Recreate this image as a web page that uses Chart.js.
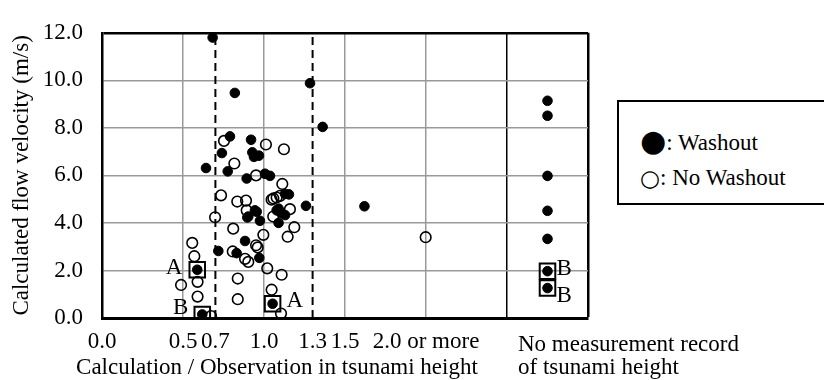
<!DOCTYPE html>
<html>
<head>
<meta charset="utf-8">
<script src="https://cdn.jsdelivr.net/npm/chart.js@4.4.1/dist/chart.umd.min.js"></script>
<style>
    html, body { margin: 0; padding: 0; background: #fff; }
    #wrap { position: relative; width: 824px; height: 380px; overflow: hidden; }
    #legendBox {
        position: absolute; left: 617px; top: 100px; width: 230px; height: 101px;
        border: 2px solid #000; background: #fff;
        font-family: 'Liberation Serif', 'Times New Roman', serif; font-size: 23px; color: #000;
    }
    .legendRow { position: absolute; left: 21px; white-space: nowrap; height: 26px; line-height: 26px; }
    .sym { font-family: 'DejaVu Sans', sans-serif; display: inline-block; vertical-align: top; line-height: 26px; }
</style>
</head>
<body>
<div id="wrap">
    <canvas id="chart" width="824" height="380"></canvas>
    <div id="legendBox">
        <div class="legendRow" style="top: 28px;"><span class="sym" style="font-size: 30px; margin-top: -2px;">●</span>: Washout</div>
        <div class="legendRow" style="top: 63px;"><span class="sym" style="font-size: 23px;">○</span>: No Washout</div>
    </div>
</div>
<script>
// x = calculation / observation in tsunami height, y = calculated flow velocity (m/s)
const washoutX = [0.683, 0.820, 1.284, 1.362, 0.642, 0.740, 0.790, 0.776, 0.920, 0.928, 0.938, 0.969,
    0.893, 1.006, 1.037, 1.130, 1.154, 1.259, 1.620, 0.718, 0.883, 0.831, 0.971, 0.897, 0.944, 0.975,
    0.955, 0.903, 1.078, 1.090, 1.130, 1.090, 1.105, 0.588, 0.619, 1.053];
const washoutY = [11.80, 9.47, 9.88, 8.04, 6.31, 6.94, 7.64, 6.17, 7.50, 6.97, 6.78, 6.83,
    5.87, 6.07, 5.98, 5.22, 5.20, 4.72, 4.70, 2.82, 3.24, 2.73, 2.53, 4.23, 4.53, 4.09,
    4.47, 4.27, 4.53, 4.60, 4.33, 4.00, 4.42, 2.03, 0.15, 0.60];

const noWashoutX = [0.753, 0.817, 1.012, 1.123, 0.951, 1.113, 1.058, 1.078, 1.099, 1.160, 1.187, 1.146,
    0.996, 1.020, 1.109, 1.047, 1.105, 1.998, 0.698, 0.735, 0.557, 0.570, 0.488, 0.590, 0.590, 0.673,
    0.838, 0.838, 0.810, 0.807, 0.883, 0.903, 0.951, 0.961, 0.835, 0.889, 0.893, 1.047, 1.057];
const noWashoutY = [7.45, 6.50, 7.30, 7.10, 6.00, 5.64, 5.03, 5.07, 5.14, 4.58, 3.82, 3.42,
    3.50, 2.09, 1.82, 1.19, 0.19, 3.40, 4.24, 5.16, 3.16, 2.60, 1.39, 1.52, 0.90, 0.08,
    1.66, 0.79, 3.76, 2.80, 2.49, 2.36, 3.06, 2.97, 4.90, 4.94, 4.53, 4.98, 4.27];

// sites without a measured tsunami height (all washed out), shown in their own column
const noRecordX = 2.75;
const noRecordY = [9.14, 8.51, 5.98, 4.51, 3.33, 1.97, 1.26];

// boxed points with their letters
const markedX = [0.588, 0.619, 1.053, 2.75, 2.75];
const markedY = [2.03, 0.15, 0.60, 1.97, 1.26];
const markedLabels = ['A', 'B', 'A', 'B', 'B'];

const dashedX = [0.7, 1.3];
const noRecordBoundary = 2.5;
const xTickValues = [0, 0.5, 0.7, 1.0, 1.3, 1.5, 2.0, 2.5, 3.0];
const xTickLabels = ['0.0', '0.5', '0.7', '1.0', '1.3', '1.5', '2.0 or more', '', ''];
const yTicks = [0, 2, 4, 6, 8, 10, 12];

const xTitle = 'Calculation / Observation in tsunami height';
const noRecordTitle = ['No measurement record', 'of tsunami height'];
const yTitle = 'Calculated flow velocity (m/s)';

const toPoints = (xs, ys) => xs.map((x, i) => ({ x: x, y: ys[i] }));
const SERIF = "'Liberation Serif', 'Times New Roman', serif";
const FONT_SIZE = 23;

// pixel nudges for the A/B letters, relative to their boxed point
const labelOffsets = [
    { dx: -15, dy: -2, align: 'right' },
    { dx: -14, dy: -6, align: 'right' },
    { dx: 14, dy: -3, align: 'left' },
    { dx: 9, dy: -2, align: 'left' },
    { dx: 9, dy: 8, align: 'left' }
];

const annotations = {
    id: 'annotations',
    afterDatasetsDraw(chart) {
        const ctx = chart.ctx;
        const xs = chart.scales.x, ys = chart.scales.y;
        ctx.save();
        ctx.fillStyle = '#000';
        ctx.font = FONT_SIZE + 'px ' + SERIF;
        ctx.textBaseline = 'middle';
        markedLabels.forEach((txt, i) => {
            const o = labelOffsets[i];
            ctx.textAlign = o.align;
            ctx.fillText(txt, xs.getPixelForValue(markedX[i]) + o.dx, ys.getPixelForValue(markedY[i]) + o.dy);
        });
        ctx.restore();
    },
    afterDraw(chart) {
        const ctx = chart.ctx;
        const area = chart.chartArea;
        const xs = chart.scales.x;
        ctx.save();
        ctx.fillStyle = '#000';
        ctx.font = FONT_SIZE + 'px ' + SERIF;
        ctx.textBaseline = 'middle';
        ctx.textAlign = 'center';
        ctx.fillText(xTitle, xs.getPixelForValue(1.08), area.bottom + 50);
        ctx.textAlign = 'left';
        const nx = xs.getPixelForValue(noRecordBoundary) + 11;
        ctx.fillText(noRecordTitle[0], nx, area.bottom + 27);
        ctx.fillText(noRecordTitle[1], nx, area.bottom + 50);
        ctx.translate(22, (area.top + area.bottom) / 2);
        ctx.rotate(-Math.PI / 2);
        ctx.textAlign = 'center';
        ctx.fillText(yTitle, 0, 0);
        ctx.restore();
    }
};

Chart.defaults.font.family = SERIF;
Chart.defaults.font.size = FONT_SIZE;
Chart.defaults.color = '#000';

const filledStyle = {
    pointStyle: 'circle', pointRadius: 4.8, pointHoverRadius: 4.8,
    pointBackgroundColor: '#000', pointBorderColor: '#000', pointBorderWidth: 1
};

new Chart(document.getElementById('chart'), {
    type: 'scatter',
    data: {
        datasets: [
            {
                label: 'marked',
                data: toPoints(markedX, markedY),
                pointStyle: 'rect', pointRadius: 11, pointHoverRadius: 11,
                pointBackgroundColor: 'rgba(0,0,0,0)', pointBorderColor: '#000', pointBorderWidth: 2
            },
            Object.assign({ label: 'Washout', data: toPoints(washoutX, washoutY) }, filledStyle),
            Object.assign({ label: 'Washout (no record)', data: noRecordY.map(y => ({ x: noRecordX, y: y })) }, filledStyle),
            {
                label: 'No Washout',
                data: toPoints(noWashoutX, noWashoutY),
                pointStyle: 'circle', pointRadius: 5.3, pointHoverRadius: 5.3,
                pointBackgroundColor: 'rgba(0,0,0,0)', pointBorderColor: '#000', pointBorderWidth: 1.6
            },
            ...dashedX.map(x => ({
                label: 'ratio ' + x,
                data: [{ x: x, y: 0 }, { x: x, y: 12 }],
                showLine: true, borderColor: '#000', borderWidth: 2, borderDash: [8, 5],
                pointRadius: 0, pointHoverRadius: 0
            }))
        ]
    },
    options: {
        responsive: false,
        animation: false,
        events: [],
        layout: { padding: { top: 19, right: 236, left: 0, bottom: 0 } },
        plugins: { legend: { display: false }, tooltip: { enabled: false } },
        scales: {
            x: {
                type: 'linear', min: 0, max: 3,
                afterBuildTicks: scale => { scale.ticks = xTickValues.map(v => ({ value: v })); },
                afterFit: scale => { scale.height = 62; },
                ticks: {
                    autoSkip: false, maxRotation: 0, minRotation: 0, padding: 10,
                    callback: (value, index) => xTickLabels[index]
                },
                grid: {
                    drawTicks: false,
                    color: c => {
                        const v = c.tick ? c.tick.value : null;
                        if (dashedX.includes(v)) return 'rgba(0,0,0,0)';
                        if (v === noRecordBoundary || v === 3) return '#000';
                        return '#999';
                    },
                    lineWidth: c => (c.tick && c.tick.value === 3 ? 2.5 : 1.5)
                },
                border: { color: '#000', width: 3 }
            },
            y: {
                type: 'linear', min: 0, max: 12,
                afterBuildTicks: scale => { scale.ticks = yTicks.map(v => ({ value: v })); },
                afterFit: scale => { scale.width = 102; },
                ticks: { padding: 19, callback: v => v.toFixed(1) },
                grid: {
                    drawTicks: false,
                    color: c => (c.tick && c.tick.value === 12 ? '#000' : '#999'),
                    lineWidth: c => (c.tick && c.tick.value === 12 ? 2.5 : 1.5)
                },
                border: { color: '#000', width: 2.5 }
            }
        }
    },
    plugins: [annotations]
});
</script>
</body>
</html>
